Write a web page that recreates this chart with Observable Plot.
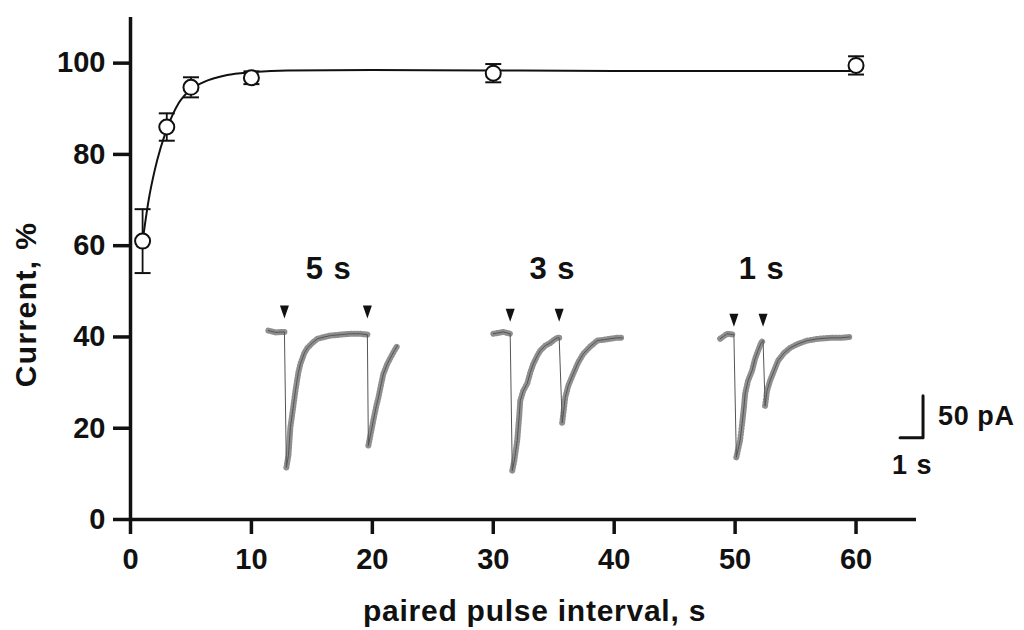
<!DOCTYPE html>
<html>
<head>
<meta charset="utf-8">
<script src="https://cdn.jsdelivr.net/npm/d3@7"></script>
<script src="https://cdn.jsdelivr.net/npm/@observablehq/plot@0.6"></script>
<style>
  html, body { margin: 0; padding: 0; background: #fff; }
  #chart { width: 1024px; height: 630px; }
</style>
</head>
<body>
<div id="chart"></div>
<script>
// ---- Main data: paired-pulse recovery (mean ± SEM) ----
const intervalS   = [1, 3, 5, 10, 30, 60];
const currentPct  = [61, 86, 94.7, 96.8, 97.8, 99.5];
const semPct      = [7, 3, 2.2, 1.4, 2, 2];

// fitted recovery curve
const fitX = [1, 1.5, 2, 2.5, 3, 4, 5, 6, 8, 10, 13, 20, 30, 40, 50, 60];
const fitY = [61, 70, 76.5, 81.5, 85.5, 91.3, 94.3, 95.8, 97.4, 98, 98.4, 98.5, 98.4, 98.3, 98.3, 98.3];

// axis ticks
const xTicks = [0, 10, 20, 30, 40, 50, 60];
const yTicks = [0, 20, 40, 60, 80, 100];

// ---- Inset current traces (drawn in the chart's coordinates) ----
const trace5x = [11.4, 12.0, 12.73, 12.89, 13.06, 13.22, 13.47, 13.64, 13.88, 14.05, 14.38, 14.63, 15.04, 15.45, 16.03, 16.53, 17.36, 18.18, 19.01, 19.59, 19.67, 19.92, 20.08, 20.33, 20.5, 20.74, 20.91, 21.24, 21.49, 21.82, 22.07];
const trace5y = [41.4, 41.0, 41.1, 11.4, 14.0, 20.1, 24.9, 28.2, 32.2, 34.1, 36.5, 37.6, 38.7, 39.6, 40.0, 40.3, 40.5, 40.7, 40.7, 40.5, 16.2, 19.5, 21.7, 24.9, 26.7, 29.8, 31.9, 34.1, 35.4, 37.0, 38.1];

const trace3x = [30.0, 30.83, 31.4, 31.57, 31.74, 31.98, 32.15, 32.23, 32.48, 32.81, 33.06, 33.31, 33.64, 33.88, 34.3, 34.71, 35.04, 35.29, 35.45, 35.7, 35.87, 35.95, 36.2, 36.61, 37.02, 37.44, 38.02, 38.6, 39.17, 39.67, 40.17, 40.66];
const trace3y = [40.7, 41.1, 40.7, 10.7, 12.9, 17.3, 22.8, 26.0, 28.2, 29.8, 32.2, 34.1, 35.9, 37.0, 38.1, 38.7, 39.4, 39.8, 39.8, 21.2, 24.9, 26.7, 29.3, 31.9, 34.4, 36.3, 37.9, 39.2, 39.4, 39.6, 39.8, 39.8];

const trace1x = [48.76, 49.34, 49.9, 50.1, 50.41, 50.58, 50.74, 50.83, 51.07, 51.4, 51.65, 51.9, 52.15, 52.31, 52.48, 52.64, 52.89, 53.22, 53.55, 54.05, 54.55, 55.21, 55.95, 56.86, 57.85, 58.68, 59.5];
const trace1y = [39.6, 40.7, 40.5, 13.6, 17.3, 21.0, 24.9, 27.6, 30.4, 32.6, 35.2, 37.0, 38.7, 39.2, 24.9, 28.2, 30.4, 32.6, 34.8, 36.5, 37.6, 38.5, 39.2, 39.6, 39.8, 39.8, 40.0];

const insetLabels = ["5 s", "3 s", "1 s"];
const insetLabelX = [16.4, 34.9, 52.2];
const insetLabelY = [54.9, 54.9, 54.9];

// scale bar: corner position and lengths (chart units)
const scaleBarCorner = [65.54, 17.9];
const scaleBarLen = [1.9, 9.2];   // 1 s, 50 pA
const scaleBarText = ["50 pA", "1 s"];

const xTitle = "paired pulse interval, s";
const yTitle = "Current, %";

// ---- Build tables ----
const points = intervalS.map((x, i) => ({x, y: currentPct[i], lo: currentPct[i] - semPct[i], hi: currentPct[i] + semPct[i]}));
const fit = fitX.map((x, i) => ({x, y: fitY[i]}));

function traceRows(name, xs, ys) {
  let seg = 0;
  return xs.map((x, i) => {
    const drop = i > 0 && ys[i - 1] - ys[i] > 8;
    if (drop) seg++;
    return {trace: name, seg: name + "-" + seg, x, y: ys[i], drop, px: i > 0 ? xs[i - 1] : x, base: ys[0]};
  });
}
const traces = [
  ...traceRows("t5", trace5x, trace5y),
  ...traceRows("t3", trace3x, trace3y),
  ...traceRows("t1", trace1x, trace1y)
];
const arrows = traces.filter(d => d.drop).map(d => ({x: d.px, y: d.base}));
const labels = insetLabels.map((t, i) => ({t, x: insetLabelX[i], y: insetLabelY[i]}));

const [cx, cy] = scaleBarCorner;
const scaleBar = [
  {x: cx - scaleBarLen[0], y: cy},
  {x: cx, y: cy},
  {x: cx, y: cy + scaleBarLen[1]}
];

const arrowSymbol = {
  draw(ctx) {
    ctx.moveTo(-4.5, -7);
    ctx.lineTo(4.5, -7);
    ctx.lineTo(0, 6);
    ctx.closePath();
  }
};
const capSymbol = {
  draw(ctx) {
    ctx.moveTo(-8, 0);
    ctx.lineTo(8, 0);
  }
};

const font = "'Liberation Sans', Arial, Helvetica, sans-serif";
const ink = "#111";

const chart = Plot.plot({
  width: 1024,
  height: 630,
  marginLeft: 130,
  marginRight: 108,
  marginTop: 17,
  marginBottom: 111,
  style: {fontFamily: font, fontWeight: "bold", fontSize: "29px", color: ink, background: "#fff"},
  x: {domain: [0, 65]},
  y: {domain: [0, 110]},
  marks: [
    // axes
    Plot.axisX({ticks: xTicks, tickSize: 15, tickPadding: 14, strokeWidth: 3.5, label: null, tickFormat: d => d, fontSize: 29}),
    Plot.axisY({ticks: yTicks, tickSize: 17, tickPadding: 8, strokeWidth: 3.5, label: null, tickFormat: d => d, fontSize: 29}),
    Plot.ruleY([0], {stroke: ink, strokeWidth: 3.5}),
    Plot.ruleX([0], {stroke: ink, strokeWidth: 3.5}),

    // inset traces: noisy hatching + thin core line
    Plot.line(traces, {x: "x", y: "y", z: "seg", stroke: "#8f8f8f", strokeWidth: 6, strokeDasharray: "1,2.2", curve: "linear"}),
    Plot.line(traces, {x: "x", y: "y", z: "trace", stroke: "#555", strokeWidth: 1, curve: "linear"}),
    Plot.dot(arrows, {x: "x", y: "y", dy: -18, symbol: arrowSymbol, fill: ink, stroke: "none"}),
    Plot.text(labels, {x: "x", y: "y", text: "t", fontSize: 31, fontWeight: "bold", fill: ink}),

    // scale bar
    Plot.line(scaleBar, {x: "x", y: "y", stroke: ink, strokeWidth: 3}),
    Plot.text([scaleBarText[0]], {x: () => cx, y: () => cy + scaleBarLen[1] / 2, text: d => d, textAnchor: "start", dx: 15, dy: 0, fontSize: 27, fontWeight: "bold", fill: ink}),
    Plot.text([scaleBarText[1]], {x: () => cx - scaleBarLen[0], y: () => cy, text: d => d, textAnchor: "start", dx: -8, dy: 28, fontSize: 27, fontWeight: "bold", fill: ink}),

    // error bars
    Plot.ruleX(points, {x: "x", y1: "lo", y2: "hi", stroke: ink, strokeWidth: 1.8}),
    Plot.dot(points, {x: "x", y: "lo", symbol: capSymbol, stroke: ink, strokeWidth: 2, fill: "none"}),
    Plot.dot(points, {x: "x", y: "hi", symbol: capSymbol, stroke: ink, strokeWidth: 2, fill: "none"}),

    // fitted curve
    Plot.line(fit, {x: "x", y: "y", stroke: ink, strokeWidth: 2, curve: "monotone-x"}),

    // data points
    Plot.dot(points, {x: "x", y: "y", r: 7.5, stroke: ink, strokeWidth: 2, fill: "#fff"}),

    // axis titles
    Plot.text([xTitle], {frameAnchor: "bottom", dx: 11, dy: 92, textAnchor: "middle", lineAnchor: "middle", text: d => d, fontSize: 30, fontWeight: "bold", fill: ink}),
    Plot.text([yTitle], {frameAnchor: "left", dx: -104, dy: 36, rotate: -90, textAnchor: "middle", lineAnchor: "middle", text: d => d, fontSize: 30, fontWeight: "bold", fill: ink})
  ]
});

// slightly wider lettering, as in the scanned original
const spacing = new Map([[xTitle, "0.75px"], [yTitle, "1.4px"], ["5 s", "1px"], ["3 s", "1px"], ["1 s", "1px"], ["50 pA", "0.6px"]]);
d3.select(chart).selectAll("text").each(function () {
  const s = spacing.get(this.textContent);
  if (s) this.style.letterSpacing = s;
});

document.getElementById("chart").appendChild(chart);
</script>
</body>
</html>
